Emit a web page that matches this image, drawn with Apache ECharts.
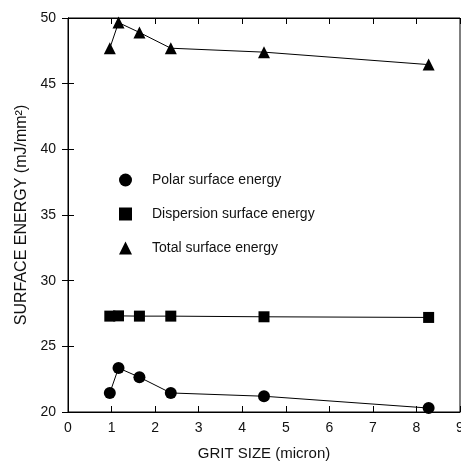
<!DOCTYPE html>
<html>
<head>
<meta charset="utf-8">
<script src="https://cdn.jsdelivr.net/npm/echarts@6/dist/echarts.min.js"></script>
<style>
  html, body { margin: 0; padding: 0; background: #fff; }
  #main { width: 461px; height: 461px; }
</style>
</head>
<body>
<div id="main"></div>
<script>
// grit size (micron) and surface energies (mJ/mm2)
const gritSize = [0.96, 1.16, 1.64, 2.36, 4.5, 8.28];
const polarEnergy = [21.45, 23.35, 22.65, 21.45, 21.2, 20.3];
const dispersionEnergy = [27.3, 27.32, 27.3, 27.3, 27.25, 27.2];
const totalEnergy = [47.7, 49.65, 48.9, 47.7, 47.4, 46.45];

const seriesNames = ['Polar surface energy', 'Dispersion surface energy', 'Total surface energy'];
const seriesSymbols = ['circle', 'rect', 'triangle'];
const seriesData = [polarEnergy, dispersionEnergy, totalEnergy];

const font = 'Liberation Sans, Arial, sans-serif';

const chart = echarts.init(document.getElementById('main'));

const innerTicks = { show: true, inside: true, length: 6, lineStyle: { color: '#000' } };

const option = {
  backgroundColor: '#fff',
  animation: false,
  grid: {
    left: 68, right: 1, top: 18, bottom: 49,
    outerBoundsMode: 'none', containLabel: false,
    show: true, borderColor: '#000', borderWidth: 1
  },
  legend: {
    orient: 'vertical',
    left: 114,
    top: 168,
    itemGap: 20,
    itemWidth: 13,
    itemHeight: 13,
    textStyle: { fontFamily: font, fontSize: 14, color: '#111', padding: [0, 0, 0, 15] },
    data: seriesNames.map((n, i) => ({ name: n, icon: seriesSymbols[i] }))
  },
  xAxis: [
    {
      type: 'value', min: 0, max: 9, interval: 1,
      name: 'GRIT SIZE (micron)', nameLocation: 'middle', nameGap: 34,
      nameTextStyle: { fontFamily: font, fontSize: 15, color: '#111' },
      axisLine: { show: true, lineStyle: { color: '#000' } },
      axisTick: innerTicks,
      axisLabel: { fontFamily: font, fontSize: 14, color: '#111', margin: 9 },
      splitLine: { show: false }
    },
    {
      type: 'value', min: 0, max: 9, interval: 1, position: 'top',
      axisLine: { show: true, lineStyle: { color: '#000' } },
      axisTick: innerTicks, axisLabel: { show: false }, splitLine: { show: false }
    }
  ],
  yAxis: [
    {
      type: 'value', min: 20, max: 50, interval: 5,
      name: 'SURFACE ENERGY (mJ/mm²)', nameLocation: 'middle', nameGap: 36,
      nameTextStyle: { fontFamily: font, fontSize: 16, color: '#111' },
      axisLine: { show: true, lineStyle: { color: '#000' } },
      axisTick: innerTicks,
      axisLabel: { fontFamily: font, fontSize: 14, color: '#111', margin: 12 },
      splitLine: { show: false }
    },
    {
      type: 'value', min: 20, max: 50, interval: 5, position: 'right',
      axisLine: { show: true, lineStyle: { color: '#000' } },
      axisTick: innerTicks, axisLabel: { show: false }, splitLine: { show: false }
    }
  ],
  series: seriesNames.map((name, i) => ({
    name: name,
    type: 'line',
    symbol: seriesSymbols[i],
    symbolSize: i === 1 ? 11 : 12,
    showAllSymbol: true,
    itemStyle: { color: '#000' },
    lineStyle: { color: '#000', width: 1 },
    data: gritSize.map((x, j) => [x, seriesData[i][j]])
  }))
};

chart.setOption(option);
</script>
</body>
</html>
